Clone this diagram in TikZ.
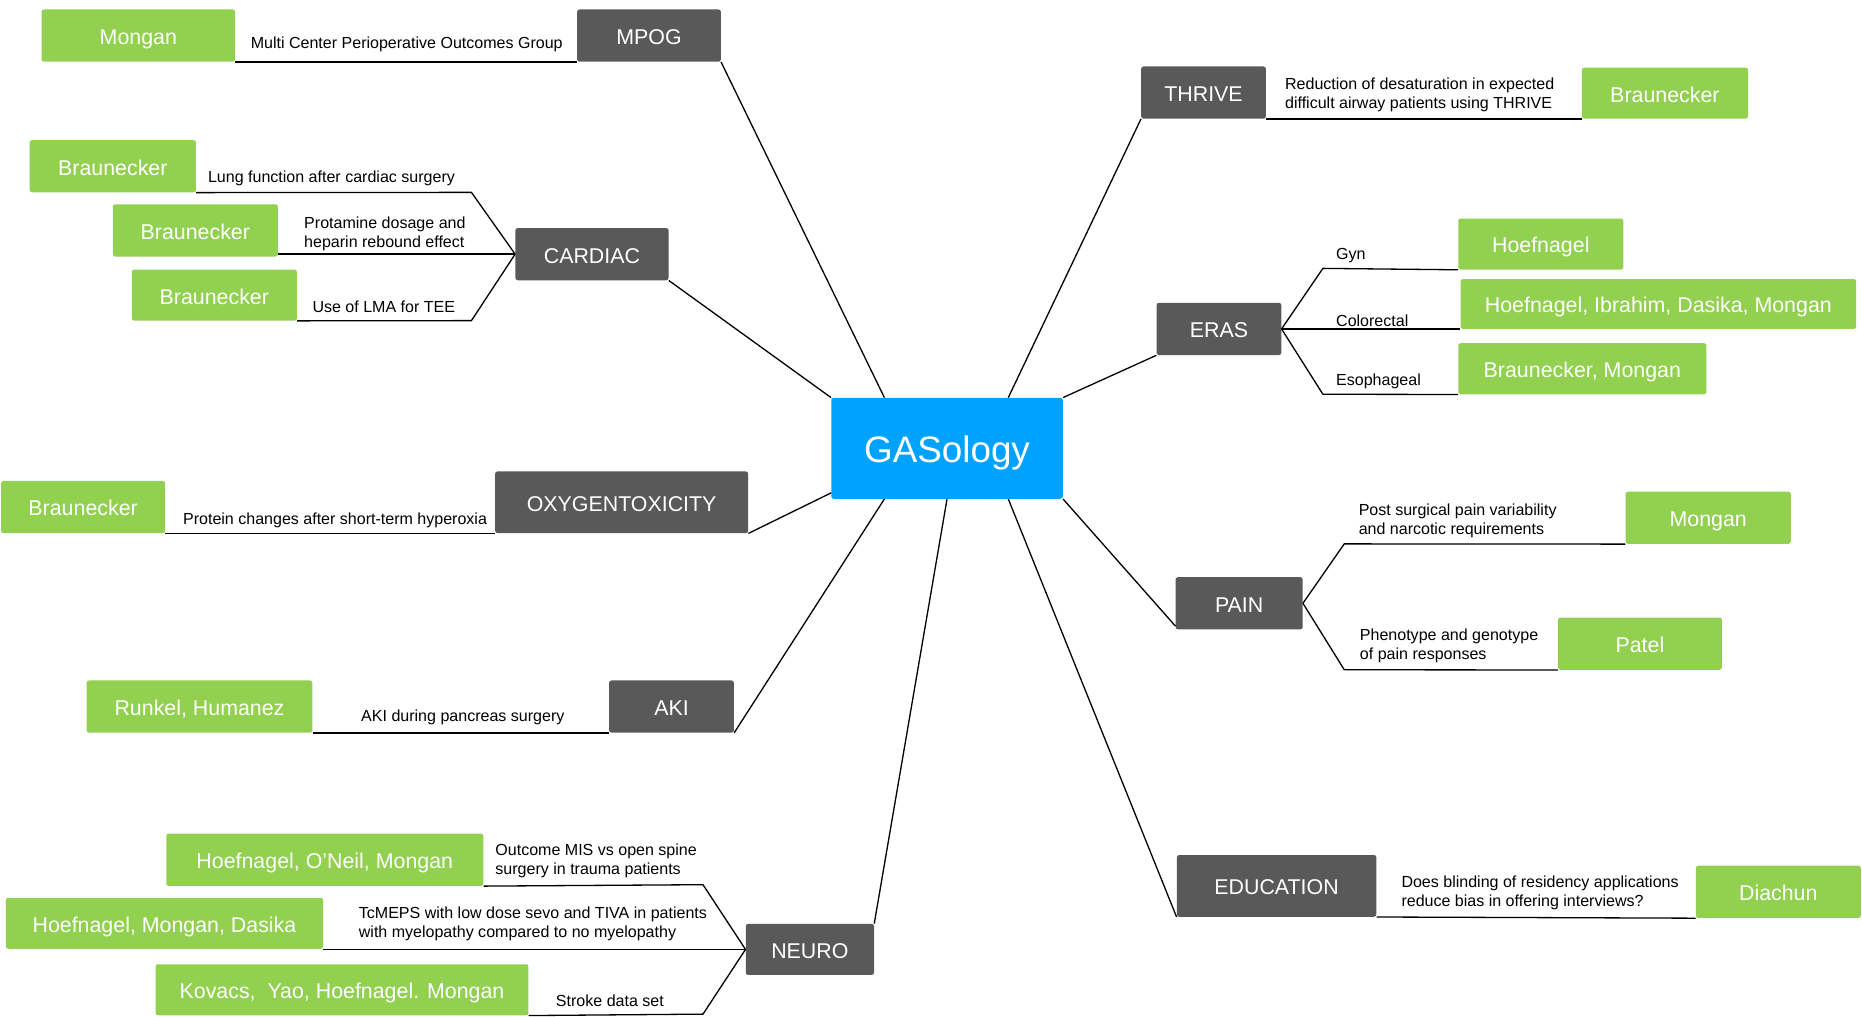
\documentclass[tikz,border=0pt]{standalone}
\usepackage{fontspec}
\setmainfont{Liberation Sans}
\usetikzlibrary{calc}
\definecolor{gasblue}{HTML}{00A2FF}
\definecolor{topicgray}{HTML}{595959}
\definecolor{authgreen}{HTML}{92D050}
\begin{document}
\begin{tikzpicture}[x=1pt,y=-1pt,
  bx/.style={rounded corners=2pt, inner sep=0pt, text=white, text height=15pt, text depth=0pt, font=\fontsize{18}{20}\selectfont},
  topic/.style={bx, fill=topicgray},
  auth/.style={bx, fill=authgreen},
  lbl/.style={anchor=west, inner sep=0pt, align=left, font=\fontsize{13.5}{16}\selectfont},
  conn/.style={draw=black, line width=1.1pt, line join=round}]
\useasboundingbox (0,0) rectangle (1568,856);
% center
\node[bx, fill=gasblue, minimum width=195pt, minimum height=85pt, text height=24pt, font=\fontsize{31}{34}\selectfont] (gas) at (797.5,377.5) {GASology};
% topics
\node[topic, minimum width=121pt, minimum height=44pt] (mpog) at (546.5,30) {MPOG};
\node[topic, minimum width=129pt, minimum height=44pt] (cardiac) at (498.5,214) {CARDIAC};
\node[topic, minimum width=213pt, minimum height=52pt] (oxy) at (523.5,423) {OXYGENTOXICITY};
\node[topic, minimum width=105pt, minimum height=44pt] (aki) at (565.5,595) {AKI};
\node[topic, minimum width=108pt, minimum height=43pt] (neuro) at (682,799.5) {NEURO};
\node[topic, minimum width=105pt, minimum height=44pt] (thrive) at (1013.5,78) {THRIVE};
\node[topic, minimum width=105pt, minimum height=44pt] (eras) at (1026.5,277) {ERAS};
\node[topic, minimum width=107pt, minimum height=44pt] (pain) at (1043.5,508) {PAIN};
\node[topic, minimum width=168pt, minimum height=52pt] (edu) at (1075,746) {EDUCATION};
% authors
\node[auth, minimum width=163pt, minimum height=44pt] (mongan1) at (116.5,30) {Mongan};
\node[auth, minimum width=140pt, minimum height=44pt] (b1) at (95,140) {Braunecker};
\node[auth, minimum width=139pt, minimum height=44pt] (b2) at (164.5,194) {Braunecker};
\node[auth, minimum width=139pt, minimum height=43pt] (b3) at (180.5,248.5) {Braunecker};
\node[auth, minimum width=138pt, minimum height=44pt] (b4) at (70,427) {Braunecker};
\node[auth, minimum width=190pt, minimum height=44pt] (runkel) at (168,595) {Runkel, Humanez};
\node[auth, minimum width=267pt, minimum height=44pt] (n1) at (273.5,724) {Hoefnagel, O'Neil, Mongan};
\node[auth, minimum width=267pt, minimum height=43pt] (n2) at (138.5,777.5) {Hoefnagel, Mongan, Dasika};
\node[auth, minimum width=314pt, minimum height=43pt] (n3) at (288,833.5) {Kovacs,~ Yao, Hoefnagel. Mongan};
\node[auth, minimum width=140pt, minimum height=43pt] (t1) at (1402,78.5) {Braunecker};
\node[auth, minimum width=139pt, minimum height=43pt] (e1) at (1297.5,205.5) {Hoefnagel};
\node[auth, minimum width=333pt, minimum height=42pt] (e2) at (1396.5,256) {Hoefnagel, Ibrahim, Dasika, Mongan};
\node[auth, minimum width=209pt, minimum height=43pt] (e3) at (1332.5,310.5) {Braunecker, Mongan};
\node[auth, minimum width=139pt, minimum height=44pt] (p1) at (1438.5,436) {Mongan};
\node[auth, minimum width=138pt, minimum height=44pt] (p2) at (1381,542) {Patel};
\node[auth, minimum width=139pt, minimum height=44pt] (d1) at (1497.5,751) {Diachun};
% bend coordinates
\coordinate (c1) at (397,162);
\coordinate (c3) at (397,270);
\coordinate (k1) at (592,745);
\coordinate (k3) at (592,854);
\coordinate (r1) at (1114,226);
\coordinate (r3) at (1114,332);
\coordinate (q1) at (1132,458);
\coordinate (q2) at (1132,564);
\coordinate (goxy) at (700,415);
% connectors to center
\draw[conn] (mpog.south east) -- ($(gas.north west)!0.23!(gas.north east)$);
\draw[conn] (cardiac.south east) -- (gas.north west);
\draw[conn] (oxy.south east) -- (goxy);
\draw[conn] (aki.south east) -- ($(gas.south west)!0.23!(gas.south east)$);
\draw[conn] (neuro.north east) -- ($(gas.south west)!0.5!(gas.south east)$);
\draw[conn] (thrive.south west) -- ($(gas.north west)!0.764!(gas.north east)$);
\draw[conn] (eras.south west) -- (gas.north east);
\draw[conn] (gas.south east) -- ($(pain.south west)+(0,-3)$);
\draw[conn] ($(gas.south west)!0.764!(gas.south east)$) -- (edu.south west);
% topic to author connectors
\draw[conn] (mongan1.south east) -- (mpog.south west);
\draw[conn] (cardiac.west) -- (c1) -- (b1.south east);
\draw[conn] (cardiac.west) -- (cardiac.west -| b2.east);
\draw[conn] (cardiac.west) -- (c3) -- (b3.south east);
\draw[conn] (b4.south east) -- (oxy.south west);
\draw[conn] (runkel.south east) -- (aki.south west);
\draw[conn] (neuro.west) -- (k1) -- (n1.south east);
\draw[conn] (neuro.west) -- (neuro.west -| n2.east);
\draw[conn] (neuro.west) -- (k3) -- (n3.south east);
\draw[conn] (thrive.south east) -- (t1.south west);
\draw[conn] (eras.east) -- (r1) -- (e1.south west);
\draw[conn] (eras.east) -- (eras.east -| e2.west);
\draw[conn] (eras.east) -- (r3) -- (e3.south west);
\draw[conn] (pain.east) -- (q1) -- (p1.south west);
\draw[conn] (pain.east) -- (q2) -- (p2.south west);
\draw[conn] (edu.south east) -- (d1.south west);
% labels
\node[lbl] (l1) at (211,37) {Multi Center Perioperative Outcomes Group};
\node[lbl] (l2) at (175,150) {Lung function after cardiac surgery};
\node[lbl] (l3) at (256,197) {Protamine dosage and\\heparin rebound effect};
\node[lbl] (l4) at (263,258) {Use of LMA for TEE};
\node[lbl] (l5) at (154,438) {Protein changes after short-term hyperoxia};
\node[lbl] (l6) at (304,604) {AKI during pancreas surgery};
\node[lbl] (l7) at (417,725) {Outcome MIS vs open spine\\surgery in trauma patients};
\node[lbl] (l8) at (302,778) {TcMEPS with low dose sevo and TIVA in patients\\with myelopathy compared to no myelopathy};
\node[lbl] (l9) at (468,843) {Stroke data set};
\node[lbl] (l10) at (1082,80) {Reduction of desaturation in expected\\difficult airway patients using THRIVE};
\node[lbl] (l11) at (1125,215) {Gyn};
\node[lbl] (l12) at (1125,270) {Colorectal};
\node[lbl] (l13) at (1125,321) {Esophageal};
\node[lbl] (l14) at (1144,439) {Post surgical pain variability\\and narcotic requirements};
\node[lbl] (l15) at (1145,544) {Phenotype and genotype\\of pain responses};
\node[lbl] (l16) at (1180,752) {Does blinding of residency applications\\reduce bias in offering interviews?};
\end{tikzpicture}
\end{document}
